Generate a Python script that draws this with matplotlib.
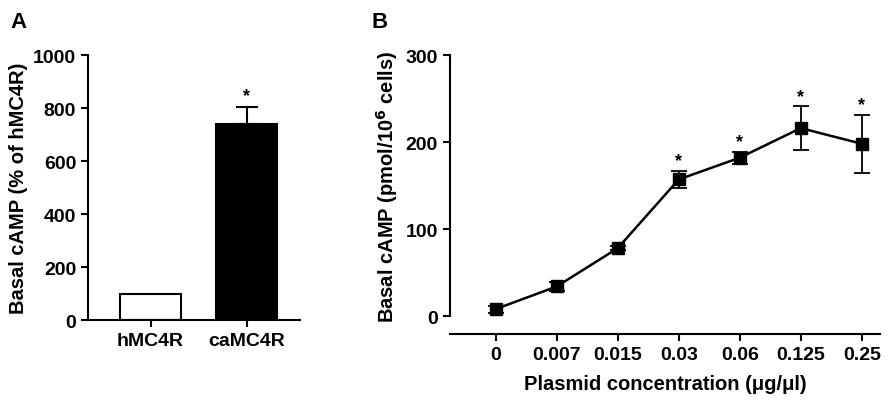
import matplotlib
matplotlib.use("Agg")
import matplotlib.pyplot as plt
import numpy as np

plt.rcParams['font.family'] = ['Liberation Sans', 'DejaVu Sans']
plt.rcParams['font.weight'] = 'bold'

a_cats = ['hMC4R', 'caMC4R']
a_vals = [100, 740]
a_err = [0, 65]
a_sig = [False, True]

b_cats = ['0', '0.007', '0.015', '0.03', '0.06', '0.125', '0.25']
b_vals = [8, 34, 78, 157, 182, 216, 198]
b_err = [4, 5, 2, 10, 7, 25, 33]
b_sig = [False, False, False, True, True, True, True]

fig = plt.figure(figsize=(8.89, 4.06), dpi=100)

axA = fig.add_axes([0.099, 0.209, 0.238, 0.653])
x = np.arange(len(a_cats))
axA.bar(x, a_vals, width=0.64, color=['white', 'black'], edgecolor='black', linewidth=1.5)
axA.errorbar(x[1:], a_vals[1:], yerr=[[0], a_err[1:]], fmt='none', ecolor='black', capsize=8, elinewidth=1.5, capthick=1.5)
for xi, v, e, s in zip(x, a_vals, a_err, a_sig):
    if s:
        axA.text(xi, v + e + 10, '*', ha='center', va='bottom', fontsize=13)
axA.set_xlim(-0.65, 1.55)
axA.set_ylim(0, 1000)
axA.set_yticks([0, 200, 400, 600, 800, 1000])
axA.set_xticks(x)
axA.set_xticklabels(a_cats)
axA.set_ylabel('Basal cAMP (% of hMC4R)', fontsize=14.5, fontweight='bold')
for s in ['top', 'right']:
    axA.spines[s].set_visible(False)
for s in ['left', 'bottom']:
    axA.spines[s].set_linewidth(1.5)
axA.tick_params(width=1.5, length=5, labelsize=14)
fig.text(0.012, 0.93, 'A', fontsize=16, fontweight='bold')

axB = fig.add_axes([0.506, 0.219, 0.484, 0.643])
xb = np.arange(len(b_cats))
axB.errorbar(xb, b_vals, yerr=b_err, fmt='-s', color='black', ms=8, lw=1.8, capsize=6, elinewidth=1.3, capthick=1.3)
for xi, v, e, s in zip(xb, b_vals, b_err, b_sig):
    if s:
        axB.text(xi, v + e + 2, '*', ha='center', va='bottom', fontsize=13)
axB.set_xlim(-0.75, 6.3)
axB.set_ylim(0, 300)
axB.set_yticks([0, 100, 200, 300])
axB.set_xticks(xb)
axB.set_xticklabels(b_cats)
axB.set_ylabel('Basal cAMP (pmol/10$^{\\mathbf{6}}$ cells)', fontsize=14.5, fontweight='bold')
axB.set_xlabel('Plasmid concentration (μg/μl)', fontsize=14.5, fontweight='bold', labelpad=8)
for s in ['top', 'right']:
    axB.spines[s].set_visible(False)
for s in ['left', 'bottom']:
    axB.spines[s].set_linewidth(1.5)
axB.spines['bottom'].set_position(('outward', 13))
axB.spines['left'].set_bounds(0, 300)
axB.tick_params(width=1.5, length=5, labelsize=14)
fig.text(0.418, 0.93, 'B', fontsize=16, fontweight='bold')

fig.savefig('out.png', dpi=100)
